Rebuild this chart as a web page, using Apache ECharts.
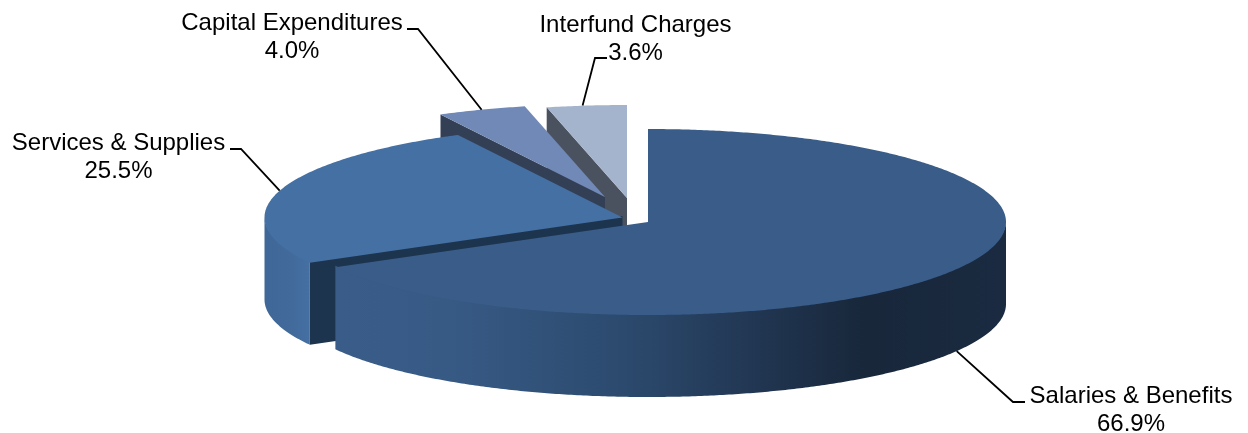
<!DOCTYPE html>
<html><head><meta charset="utf-8">
<script src="https://cdn.jsdelivr.net/npm/echarts@6/dist/echarts.min.js"></script>
<style>html,body{margin:0;padding:0;background:#fff}#c{width:1248px;height:433px}</style>
</head><body><div id="c"></div>
<script>
const categories = ['Salaries & Benefits', 'Services & Supplies', 'Capital Expenditures', 'Interfund Charges'];
const shares = [66.9, 25.5, 4.0, 3.6];

// Layout and styles (pie projection)
const CENTER = [648, 222], RX = 358, RY = 93, DEPTH = 82, OVERLAP = 1.5;
const explode = [[0, 0], [-25.5, -4.5], [-43, -25], [-21, -24]];
const labelAt = [[1131, 410], [118.5, 157], [292, 37], [635.5, 39]];
const elbowAt = [[1013, 402], [241, 149], [418, 29], [595, 58]];
const lineEnd = [[1025, 402], [230, 149], [407, 29], [607, 58]];
const anchorNudge = [[0, 0], [0, 0], [0, 0], [-4, 0]];
const topColor = ['#395c89', '#4570a3', '#7089b6', '#a5b4cd'];
const faceColor = ['#1c3550', '#1c344e', '#323f55', '#4a5260'];
const sideStops = [
  [[0, '#395c89'], [0.17, '#375a85'], [0.43, '#2c4a6e'], [0.65, '#20344f'], [0.79, '#18273a'], [1, '#1a2a40']],
  [[0, '#3f6898'], [0.4, '#426b9c'], [0.65, '#4570a3'], [1, '#4570a3']]
];
const sideRange = [[335, 1006], [265, 335]];

const rad = d => d * Math.PI / 180;
const total = shares.reduce((a, b) => a + b, 0);
const starts = shares.map((_, i) => shares.slice(0, i).reduce((a, b) => a + b, 0) / total * 360);
const ends = shares.map((v, i) => starts[i] + v / total * 360);

function rim(cx, cy, deg) { return [cx + RX * Math.sin(rad(deg)), cy - RY * Math.cos(rad(deg))]; }
function arc(cx, cy, a, b) {
  const pts = [], n = Math.max(2, Math.ceil(Math.abs(b - a) * 2));
  for (let k = 0; k <= n; k++) pts.push(rim(cx, cy, a + (b - a) * k / n));
  return pts;
}

function renderItem(params, api) {
  const i = params.dataIndex;
  const cx = CENTER[0] + explode[i][0], cy = CENTER[1] + explode[i][1];
  const a0 = starts[i], a1 = ends[i], mid = (a0 + a1) / 2;
  const layer = (categories.length - i) * 10;
  const children = [];
  // cut face at the start angle (tucked under the top surface when it faces the viewer)
  const p = rim(cx, cy, a0);
  const tuck = (a0 > 90 && a0 < 270) ? OVERLAP : 0;
  children.push({ type: 'polygon', z2: layer,
    shape: { points: [[cx, cy - tuck], [p[0], p[1] - tuck], [p[0], p[1] + DEPTH], [cx, cy + DEPTH]] },
    style: { fill: faceColor[i] } });
  // outer wall on the visible front half, also tucked under the top surface
  const s0 = Math.max(a0, 90), s1 = Math.min(a1, 270);
  if (s1 > s0) {
    const pts = arc(cx, cy, s0, s1);
    const upper = pts.map(q => [q[0], q[1] - OVERLAP]);
    const lower = pts.map(q => [q[0], q[1] + DEPTH]).reverse();
    children.push({ type: 'polygon', z2: layer + 1,
      shape: { points: upper.concat(lower) },
      style: { fill: new echarts.graphic.LinearGradient(sideRange[i][0], 0, sideRange[i][1], 0,
        sideStops[i].map(s => ({ offset: s[0], color: s[1] })), true) } });
  }
  // top surface
  children.push({ type: 'polygon', z2: layer + 2,
    shape: { points: [[cx, cy]].concat(arc(cx, cy, a0, a1)) },
    style: { fill: topColor[i] } });
  // leader line
  const front = mid > 90 && mid < 270;
  const anchor = rim(cx, cy, mid);
  anchor[0] += anchorNudge[i][0];
  if (front) anchor[1] += DEPTH;
  children.push({ type: 'polyline', z2: 100,
    shape: { points: [lineEnd[i], elbowAt[i], anchor] },
    style: { stroke: '#000', lineWidth: 1.8, fill: null } });
  // label
  children.push({ type: 'text', z2: 101,
    style: { text: categories[i] + '\n' + api.value(1).toFixed(1) + '%',
      x: labelAt[i][0], y: labelAt[i][1], align: 'center', verticalAlign: 'middle',
      font: '24px "Liberation Sans", Arial, sans-serif', lineHeight: 28, fill: '#000' } });
  return { type: 'group', children };
}

const chart = echarts.init(document.getElementById('c'), null, { renderer: 'canvas' });
chart.setOption({
  animation: false,
  backgroundColor: '#fff',
  series: [{ type: 'custom', coordinateSystem: 'none', renderItem,
    data: shares.map((v, i) => [i, v]) }]
});
</script></body></html>
